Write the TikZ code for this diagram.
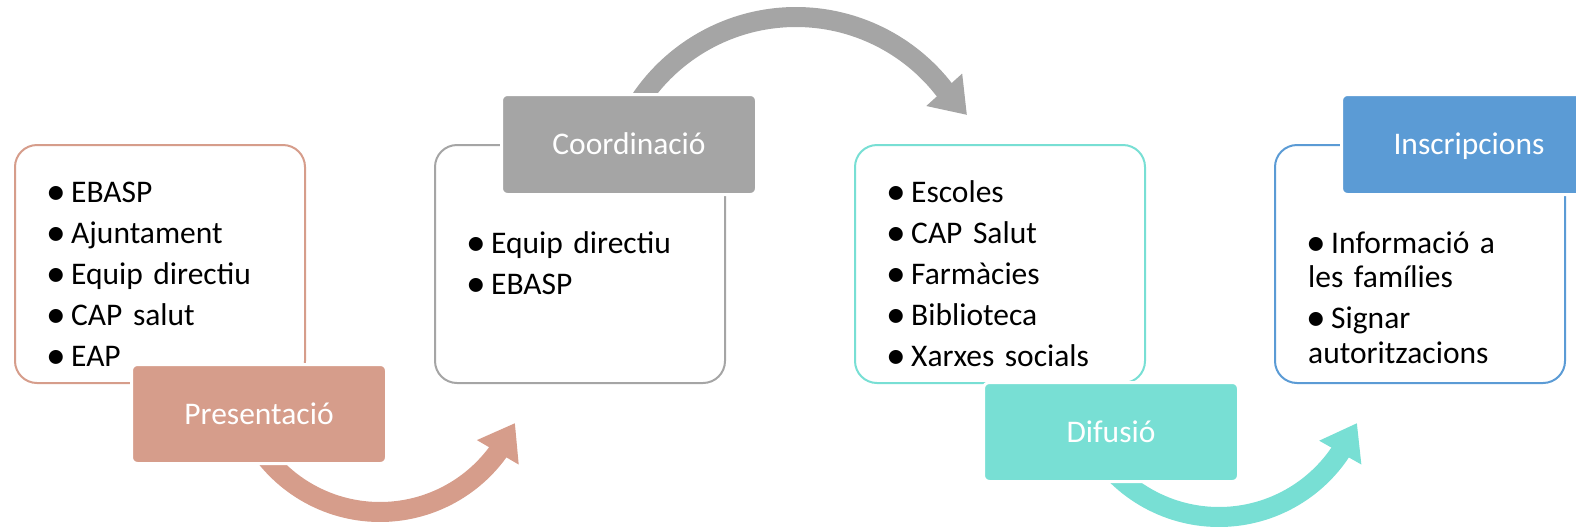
\documentclass[tikz,border=0pt]{standalone}
\usepackage{fontspec}
\setmainfont{Carlito}
\usetikzlibrary{arrows.meta,calc}
\definecolor{csalmon}{HTML}{D69D8B}
\definecolor{cgray}{HTML}{A5A5A5}
\definecolor{cteal}{HTML}{78DFD4}
\definecolor{cblue}{HTML}{5B9BD5}
\newcommand\bitem[1]{\noindent\hangindent=23pt\hangafter=1\makebox[23pt][l]{\kern-1.5pt\raisebox{-2pt}{\scalebox{1.25}{\textbullet}}}#1\par}
\begin{document}
\begin{tikzpicture}[x=1pt,y=-1pt,
  box/.style={draw=#1, line width=2pt, rounded corners=22pt, fill=white,
    minimum width=290pt, minimum height=238pt, anchor=north west, inner sep=0pt},
  lab/.style={fill=#1, draw=white, line width=3pt, rounded corners=6pt,
    minimum width=255pt, minimum height=99pt, inner sep=0pt, text=white,
    text height=20.3pt, text depth=0pt, font=\fontsize{31.5}{34.5}\selectfont},
  flow/.style={draw=#1, line width=20pt, -{Triangle[length=34pt,width=46pt]}},
  listtext/.style={anchor=base west, inner sep=0pt, text width=270pt,
    font=\fontsize{31.5}{34.5}\selectfont\setlength\parskip{6.5pt}\setlength\parindent{0pt}\raggedright}]
\clip (0,0) rectangle (1576,528);
% arrows
\coordinate (c1) at (380,366);
\coordinate (a1s) at ($(c1)+(-215:146)$);
\coordinate (a1t) at (515,423);
\draw[flow=csalmon] (a1s) arc[start angle=-215, end angle=-324, radius=146] -- (a1t);
\coordinate (c2) at (796,204.5);
\coordinate (a2s) at ($(c2)+(-150:187.5)$);
\coordinate (a2t) at (967,115);
\draw[flow=cgray] (a2s) arc[start angle=-150, end angle=-37.5, radius=187.5] -- (a2t);
\coordinate (c3) at (1219,371);
\coordinate (a3s) at ($(c3)+(-215:146)$);
\coordinate (a3t) at (1357,423);
\draw[flow=cteal] (a3s) arc[start angle=-215, end angle=-327, radius=146] -- (a3t);
% boxes
\node[box=csalmon] (b1) at (14,144) {};
\node[box=cgray] (b2) at (434,144) {};
\node[box=cteal] (b3) at (854,144) {};
\node[box=cblue] (b4) at (1274,144) {};
% lists
\node[listtext] (t1) at (48,202) {\bitem{EBASP}\bitem{Ajuntament}\bitem{Equip directiu}\bitem{CAP salut}\bitem{EAP}};
\node[listtext] (t2) at (468,253) {\bitem{Equip directiu}\bitem{EBASP}};
\node[listtext] (t3) at (888,202) {\bitem{Escoles}\bitem{CAP Salut}\bitem{Farmàcies}\bitem{Biblioteca}\bitem{Xarxes socials}};
\node[listtext] (t4) at (1308,253) {\bitem{Informació a\\les famílies}\bitem{Signar\\autoritzacions}};
% labels
\node[lab=csalmon, anchor=north west] (l1) at (130,363) {Presentació};
\node[lab=cgray, anchor=north west, minimum height=100pt] (l2) at (500,93) {Coordinació};
\node[lab=cteal, anchor=north west] (l3) at (982,381) {Difusió};
\node[lab=cblue, anchor=north west, minimum height=100pt] (l4) at (1340,93) {Inscripcions};
\end{tikzpicture}
\end{document}
